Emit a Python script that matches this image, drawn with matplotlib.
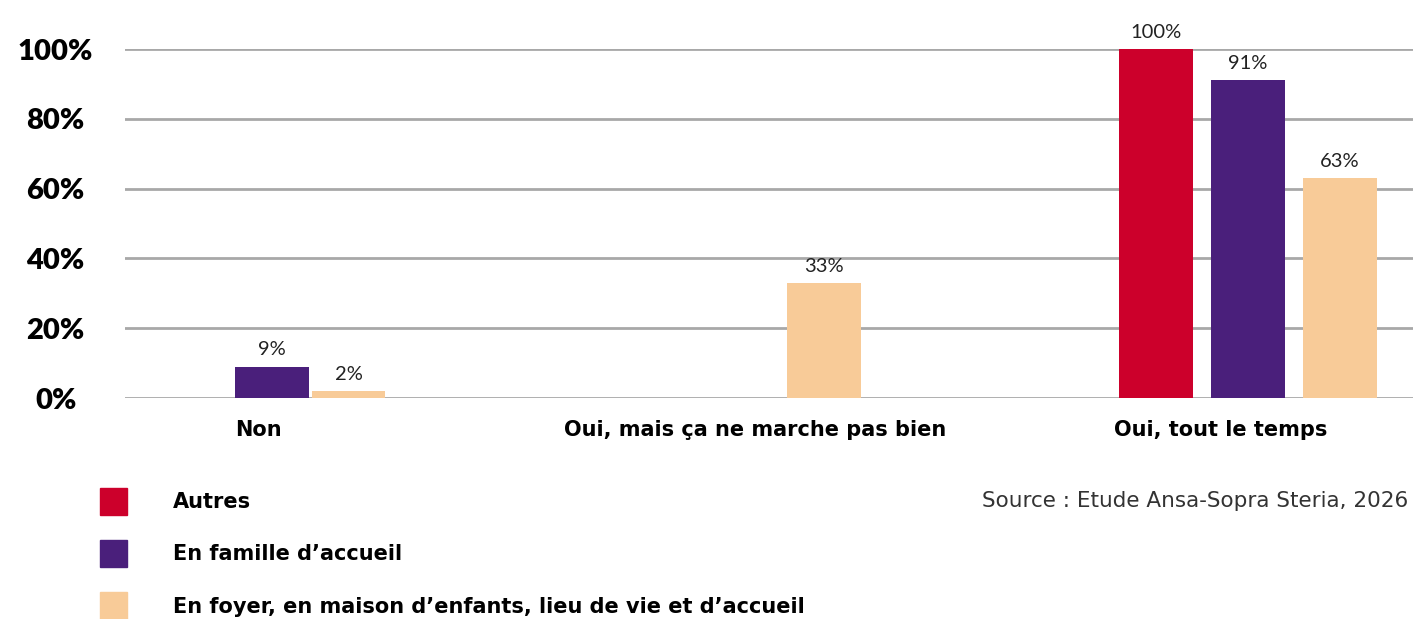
import matplotlib
matplotlib.use("Agg")
import matplotlib.pyplot as plt
from matplotlib.patches import Patch

plt.rcParams['font.family'] = ['Lato', 'DejaVu Sans']
wide = ['DejaVu Sans']

# data
categories = ["Non", "Oui, mais ça ne marche pas bien", "Oui, tout le temps"]
series = ["Autres",
          "En famille d’accueil",
          "En foyer, en maison d’enfants, lieu de vie et d’accueil"]
autres = [0, 0, 100]
famille = [9, 0, 91]
foyer = [2, 33, 63]
yticks = [0, 20, 40, 60, 80, 100]

colors = ["#CC002B", "#4A1F7B", "#F8CB98"]

# layout (empty bars are dropped, the rest packed around the group centre)
group_centers = [0.431, 1.629, 2.616]
group_steps = [0.179, 0.214, 0.214]
label_pos = [0.310, 1.467, 2.551]
bar_w = 0.172

fig = plt.figure(figsize=(14.13, 6.19), dpi=100)
ax = fig.add_axes([0.0885, 0.357, 0.9115, 0.5638])

values = [autres, famille, foyer]
for g in range(len(categories)):
    present = [s for s in range(len(series)) if values[s][g] > 0]
    n = len(present)
    for i, s in enumerate(present):
        x = group_centers[g] + (i - (n - 1) / 2) * group_steps[g]
        v = values[s][g]
        ax.bar(x, v, width=bar_w, color=colors[s], zorder=3)
        ax.annotate(f"{v}%", (x, v), xytext=(0, 6), textcoords="offset points",
                    ha="center", va="bottom", fontsize=14.5, color="#222222",
                    annotation_clip=False)

ax.set_xlim(0, 3)
ax.set_ylim(0, 100)
ax.set_yticks(yticks)
ax.set_yticklabels([f"{t}%" for t in yticks], fontsize=21, fontweight=800)
for t in ax.get_yticklabels():
    t.set_horizontalalignment("center")
ax.tick_params(axis="y", length=0, pad=50)
ax.set_xticks(label_pos)
ax.set_xticklabels(categories, fontsize=15, fontweight="bold", family=wide)
ax.tick_params(axis="x", length=0, pad=16)

ax.grid(axis="y", color="#A8A8A8", linewidth=2, zorder=0)
for sp in ax.spines.values():
    sp.set_visible(False)

handles = [Patch(color=c) for c in colors]
fig.legend(handles, series, loc="upper left", bbox_to_anchor=(0.0708, 0.2116),
           frameon=False, prop={"size": 15, "weight": "bold", "family": wide},
           handlelength=1.3, handleheight=1.6, handletextpad=2.2,
           labelspacing=1.22, borderpad=0, borderaxespad=0)

fig.text(0.9965, 0.19, "Source : Etude Ansa-Sopra Steria, 2026", ha="right",
         va="center", fontsize=15.5, color="#333333", family=wide)

fig.savefig("out.png", dpi=100)
